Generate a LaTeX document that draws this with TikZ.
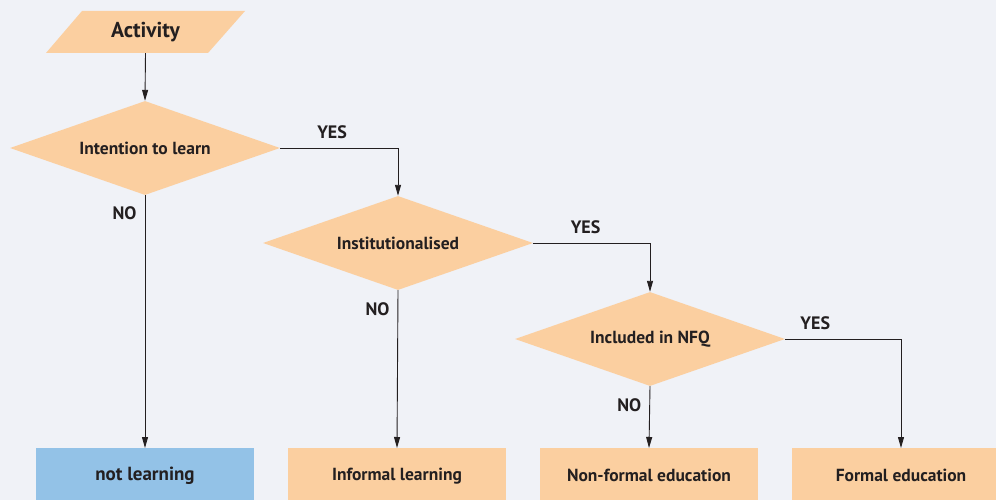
\documentclass[tikz,border=0pt]{standalone}
\usepackage{fontspec}
\setmainfont{PT Sans}
\usetikzlibrary{shapes.geometric,arrows.meta}
\definecolor{bg}{HTML}{F0F2F7}
\definecolor{peach}{HTML}{FBCFA0}
\definecolor{sky}{HTML}{93C2E7}
\definecolor{ink}{HTML}{231F20}
\tikzset{
  dec/.style={diamond, aspect=2.87, fill=peach, minimum width=270pt, minimum height=94pt, inner sep=0pt, font=\bfseries\fontsize{17.5}{20}\selectfont, text=ink},
  endbox/.style={rectangle, fill=peach, minimum width=218pt, minimum height=56pt, inner sep=0pt, anchor=north, font=\bfseries\fontsize{17.5}{20}\selectfont, text=ink},
  arr/.style={draw=ink, line width=0.9pt, -{Triangle[length=11pt,width=6pt]}},
  lbl/.style={font=\bfseries\fontsize{18}{20}\selectfont, text=ink, inner sep=0pt}
}
\begin{document}
\begin{tikzpicture}[x=1pt,y=-1pt]
\clip (0,0) rectangle (996,500);
\fill[bg] (0,0) rectangle (996,500);
\useasboundingbox (0,0) rectangle (996,500);
% Activity parallelogram
\fill[peach] (82,11) -- (245,11) -- (208,53) -- (46,53) -- cycle;
\node[minimum width=120pt, minimum height=42pt, inner sep=0pt, font=\bfseries\fontsize{21.5}{24}\selectfont, text=ink] (act) at (145.5,32) {Activity};
% decisions
\node[dec] (d1) at (145,148) {Intention to learn};
\node[dec] (d2) at (398,243) {Institutionalised};
\node[dec] (d3) at (650,339) {Included in NFQ};
% end boxes
\node[endbox, fill=sky, font=\bfseries\fontsize{19}{21}\selectfont] (b1) at (145,448) {\raisebox{2pt}{not learning}};
\node[endbox] (b2) at (397,448) {\raisebox{2pt}{Informal learning}};
\node[endbox] (b3) at (649,448) {\raisebox{2pt}{Non-formal education}};
\node[endbox] (b4) at (901,448) {\raisebox{2pt}{Formal education}};
% connectors
\draw[arr] (act.south) -- (d1.north);
\draw[arr] (d1.east) -| (d2.north) node[lbl, pos=0.25, above=9pt, xshift=-7pt] {YES};
\draw[arr] (d2.east) -| (d3.north) node[lbl, pos=0.25, above=9pt, xshift=-6pt] {YES};
\draw[arr] (d3.east) -| (b4.north) node[lbl, pos=0.16, above=9pt, xshift=-7pt] {YES};
\draw[arr] (d1.south) -- (b1.north) node[lbl, pos=0.07, left=8pt] {NO};
\draw[arr] (d2.south) -- (b2.north) node[lbl, pos=0.12, left=8pt] {NO};
\draw[arr] (d3.south) -- (b3.north) node[lbl, pos=0.3, left=8pt] {NO};
\end{tikzpicture}
\end{document}
